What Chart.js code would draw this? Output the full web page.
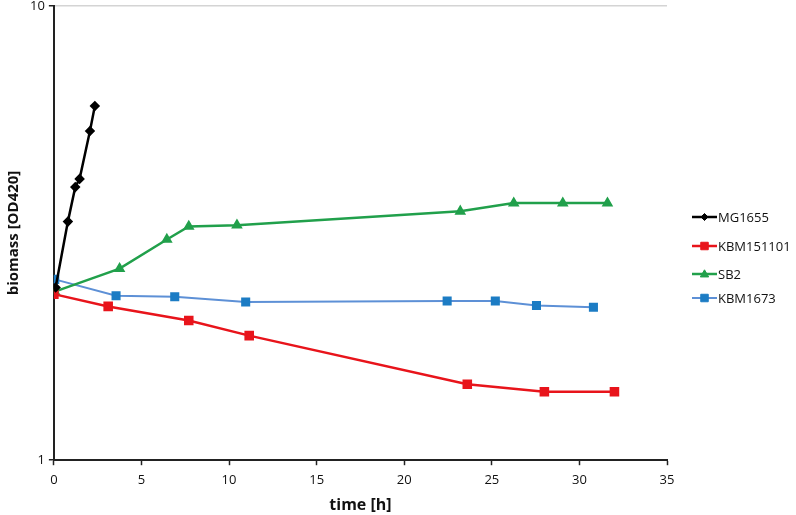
<!DOCTYPE html>
<html>
<head>
<meta charset="utf-8">
<script src="https://cdn.jsdelivr.net/npm/chart.js@4"></script>
<style>
  html, body { margin: 0; padding: 0; background: #fff; overflow: hidden; }
  #wrap { width: 796px; height: 521px; position: absolute; left: 0; top: -6px; }
</style>
</head>
<body>
<div id="wrap"><canvas id="myChart"></canvas></div>
<script>
// data (time in h, biomass OD420)
const mgTime = [0.1, 0.8, 1.22, 1.47, 2.06, 2.34];
const mgOD = [2.40, 3.35, 3.99, 4.16, 5.30, 6.02];

const kbm151101Time = [0, 3.1, 7.7, 11.15, 23.6, 28.0, 32.0];
const kbm151101OD = [2.32, 2.18, 2.03, 1.88, 1.47, 1.415, 1.415];

const sb2Time = [0.05, 3.75, 6.45, 7.7, 10.45, 23.2, 26.25, 29.05, 31.6];
const sb2OD = [2.35, 2.64, 3.06, 3.27, 3.29, 3.53, 3.68, 3.68, 3.68];

const kbm1673Time = [0.05, 3.55, 6.9, 10.95, 22.45, 25.2, 27.55, 30.8];
const kbm1673OD = [2.50, 2.30, 2.29, 2.23, 2.24, 2.24, 2.19, 2.17];

const xTicks = [0, 5, 10, 15, 20, 25, 30, 35];
const yTicks = [1, 10];

const FONT = "'Open Sans', 'DejaVu Sans', sans-serif";

function pts(xs, ys) {
  return xs.map((x, i) => ({ x: x, y: ys[i] }));
}

// legend drawn on the right, line + marker like the original
const sideLegend = {
  id: "sideLegend",
  afterDraw(chart) {
    const c = chart.ctx;
    const x0 = 692, rowY = [223, 252, 280, 304]; // canvas sits 6px above the page
    chart.data.datasets.forEach((ds, i) => {
      const y = rowY[i];
      c.save();
      c.strokeStyle = ds.borderColor;
      c.lineWidth = ds.borderWidth;
      c.beginPath();
      c.moveTo(x0, y);
      c.lineTo(x0 + 25, y);
      c.stroke();
      c.fillStyle = ds.pointBackgroundColor;
      c.strokeStyle = ds.pointBorderColor;
      c.lineWidth = 1;
      const cx = x0 + 12.5, r = ds.pointRadius;
      c.beginPath();
      if (ds.pointStyle === "rectRot") {
        c.moveTo(cx, y - r); c.lineTo(cx + r, y); c.lineTo(cx, y + r); c.lineTo(cx - r, y);
        c.closePath();
      } else if (ds.pointStyle === "triangle") {
        c.moveTo(cx, y - r); c.lineTo(cx + r, y + r * 0.7); c.lineTo(cx - r, y + r * 0.7);
        c.closePath();
      } else {
        c.rect(cx - r * 0.75, y - r * 0.75, r * 1.5, r * 1.5);
      }
      c.fill();
      c.stroke();
      c.fillStyle = "#111";
      c.font = "13px " + FONT;
      c.textBaseline = "middle";
      c.fillText(ds.label, x0 + 26, y + 1);
      c.restore();
    });
  }
};

document.addEventListener("DOMContentLoaded", () => {
  const ctx = document.getElementById("myChart").getContext("2d");

  const datasets = [
    {
      label: "MG1655",
      data: pts(mgTime, mgOD),
      borderColor: "#000000",
      borderWidth: 2.5,
      pointStyle: "rectRot",
      pointRadius: 3.5,
      pointBackgroundColor: "#000000",
      pointBorderColor: "#000000",
    },
    {
      label: "KBM151101",
      data: pts(kbm151101Time, kbm151101OD),
      borderColor: "#e8141b",
      borderWidth: 2.5,
      pointStyle: "rect",
      pointRadius: 5,
      pointBackgroundColor: "#e8141b",
      pointBorderColor: "#e8141b",
    },
    {
      label: "SB2",
      data: pts(sb2Time, sb2OD),
      borderColor: "#21a04b",
      borderWidth: 2.5,
      pointStyle: "triangle",
      pointRadius: 4.2,
      pointBackgroundColor: "#21a04b",
      pointBorderColor: "#21a04b",
    },
    {
      label: "KBM1673",
      data: pts(kbm1673Time, kbm1673OD),
      borderColor: "#5d90d6",
      borderWidth: 2,
      pointStyle: "rect",
      pointRadius: 5,
      pointBackgroundColor: "#1c7cc4",
      pointBorderColor: "#1c7cc4",
    },
  ];

  new Chart(ctx, {
    type: "line",
    data: { datasets: datasets },
    options: {
      responsive: true,
      maintainAspectRatio: false,
      animation: false,
      layout: { padding: { top: 0, right: 129, left: 5, bottom: 0 } },
      plugins: {
        legend: { display: false },
        tooltip: { enabled: false },
      },
      elements: { line: { tension: 0 } },
      scales: {
        x: {
          type: "linear",
          min: 0,
          max: 35,
          afterBuildTicks: (s) => { s.ticks = xTicks.map((v) => ({ value: v })); },
          border: { color: "#222", width: 2 },
          grid: { drawOnChartArea: false, tickColor: "#222", tickLength: 5, tickWidth: 1.5 },
          ticks: { color: "#111", font: { family: FONT, size: 13 }, padding: 7 },
          title: {
            display: true,
            text: "time [h]",
            color: "#111",
            font: { family: FONT, size: 16, weight: "bold" },
            padding: { top: 1, bottom: 0 },
          },
        },
        y: {
          type: "logarithmic",
          min: 1,
          max: 10,
          afterBuildTicks: (s) => { s.ticks = yTicks.map((v) => ({ value: v })); },
          border: { color: "#222", width: 2 },
          grid: {
            color: (c) => (c.tick && c.tick.value === 10 ? "#d4d4d4" : "rgba(0,0,0,0)"),
            lineWidth: 1.5,
            tickColor: "#222",
            tickLength: 5,
            tickWidth: 1.5,
          },
          ticks: {
            color: "#111",
            font: { family: FONT, size: 13 },
            padding: 4,
            callback: (v) => String(v),
          },
          title: {
            display: true,
            text: "biomass [OD420]",
            color: "#111",
            font: { family: FONT, size: 15, weight: "bold" },
            padding: { top: 0, bottom: 3 },
          },
        },
      },
    },
    plugins: [sideLegend],
  });
});
</script>
</body>
</html>
